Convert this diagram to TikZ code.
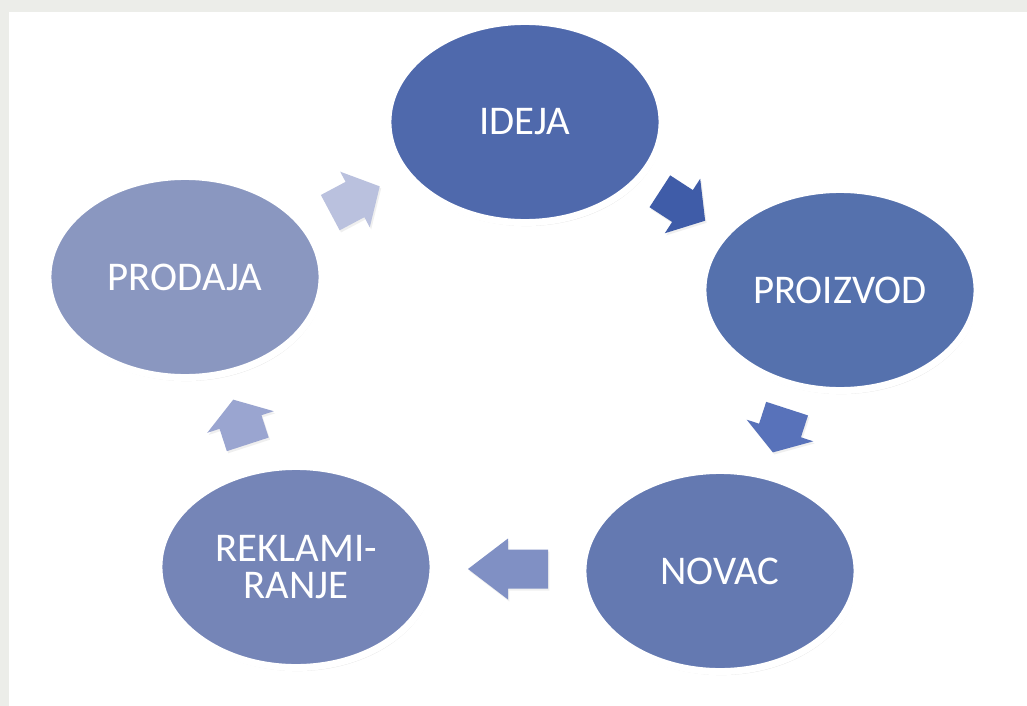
\documentclass[tikz,border=0pt]{standalone}
\usepackage{fontspec}
\setmainfont{Carlito}
\usepackage{tikz}
\usetikzlibrary{shapes.geometric,shadows,calc}

\definecolor{framegrey}{HTML}{ECEDE9}
\definecolor{ideja}{HTML}{4F69AC}
\definecolor{proizvod}{HTML}{5571AD}
\definecolor{novac}{HTML}{6479B1}
\definecolor{reklam}{HTML}{7585B7}
\definecolor{prodaja}{HTML}{8A97C0}
\definecolor{turnA}{HTML}{3F5CA8}
\definecolor{turnB}{HTML}{5872BA}
\definecolor{turnC}{HTML}{8090C4}
\definecolor{turnD}{HTML}{9AA5D0}
\definecolor{turnE}{HTML}{BAC1DE}

% block arrow: colour, centre, angle, length, head width, shaft width
\newcommand{\turnarrow}[6]{%
    \fill [#1,shift={#2},rotate=#3,turnshade]
        ({-#4/2},{#6/2}) -- (0,{#6/2}) -- (0,{#5/2}) -- ({#4/2},0)
        -- (0,{-#5/2}) -- (0,{-#6/2}) -- ({-#4/2},{-#6/2}) -- cycle;}

\begin{document}
\begin{tikzpicture}[line cap=round,line join=round,x=0.01cm,y=-0.01cm,
    stage/.style={ellipse,draw=white,line width=0.07cm,minimum width=2.74cm,minimum height=2.01cm,inner sep=0pt,
        text=white,align=center,font=\fontsize{11.6}{10.6}\selectfont,
        drop shadow={opacity=.22,shadow xshift=.4pt,shadow yshift=-1pt}},
    turnshade/.style={drop shadow={opacity=.12,shadow xshift=.4pt,shadow yshift=-.6pt}}]
        \useasboundingbox (0,0) rectangle (1027,706);
        \fill [framegrey] (0,0) rectangle (1027,706);
        \fill [white] (9,12) rectangle (1027,706);
        % kruzni tok
        \node [stage,fill=ideja] (ideja) at (525,122) {IDEJA};
        \node [stage,fill=proizvod] (proizvod) at (840,290) {PROIZVOD};
        \node [stage,fill=novac] (novac) at (720,571) {NOVAC};
        \node [stage,fill=reklam] (reklam) at (296,567) {REKLAMI-\\RANJE};
        \node [stage,fill=prodaja] (prodaja) at (185,277) {PRODAJA};
        % strelice
        \turnarrow{turnA}{($(ideja)!.5!(proizvod)$)}{-33}{54}{65}{38}
        \turnarrow{turnB}{($(proizvod)!.5!(novac)$)}{-108}{46}{70}{44}
        \turnarrow{turnC}{($(novac)!.5!(reklam)$)}{180}{80}{61}{39}
        \turnarrow{turnD}{($(reklam)!.5!(prodaja)$)}{108}{47}{70}{44}
        \turnarrow{turnE}{($(prodaja)!.5!(ideja)$)}{28}{56}{63}{40}
\end{tikzpicture}
\end{document}
